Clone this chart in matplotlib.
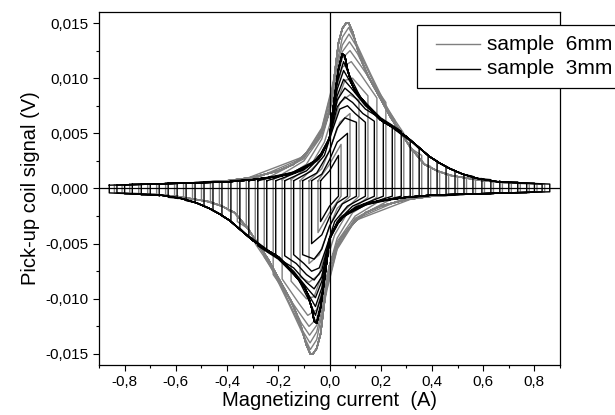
import numpy as np
import matplotlib
matplotlib.use("Agg")
import matplotlib.pyplot as plt
from matplotlib.ticker import MultipleLocator, FuncFormatter
from matplotlib.patches import Rectangle
from matplotlib.lines import Line2D

plt.rcParams["font.family"] = ["Liberation Sans", "DejaVu Sans"]

# ── Data ────────────────────────────────────────────────────────────
# upper (rising-current) branch; the falling branch is the point mirror

# sample 3mm (black): outer envelope of the saturated loops
env_I_3mm = [-0.86, -0.7, -0.55, -0.4, -0.3, -0.2, -0.14, -0.1, -0.06, -0.03,
             -0.01, 0.0, 0.01, 0.023, 0.035, 0.05, 0.06, 0.07, 0.085, 0.1,
             0.13, 0.17, 0.2, 0.25, 0.3, 0.35, 0.39, 0.43, 0.47, 0.52,
             0.58, 0.66, 0.75, 0.86]
env_V_3mm = [0.0003, 0.0004, 0.0005, 0.0006, 0.0008, 0.0011, 0.0014, 0.0018, 0.0024, 0.0032,
             0.0040, 0.0046, 0.0065, 0.0088, 0.0108, 0.0122, 0.0120, 0.0108, 0.0096, 0.0088,
             0.0080, 0.0069, 0.0062, 0.0055, 0.0047, 0.0037, 0.0029, 0.0023, 0.0018, 0.0013,
             0.0009, 0.0006, 0.0005, 0.0004]
# turnaround currents of the saturated loops, value at +A and at -A
amp_3mm = [0.35, 0.385, 0.42, 0.455, 0.49, 0.525, 0.56, 0.595, 0.63, 0.665,
           0.70, 0.735, 0.77, 0.80, 0.83, 0.86]
top_3mm = [0.0036, 0.0030, 0.0025, 0.0020, 0.0016, 0.0013, 0.0011, 0.0009, 0.0008, 0.0007,
           0.0006, 0.0006, 0.0005, 0.0005, 0.0004, 0.0004]
foot_3mm = [0.0007, 0.0007, 0.0006, 0.0006, 0.0006, 0.0005, 0.0005, 0.0005, 0.0005, 0.0004,
            0.0004, 0.0004, 0.0004, 0.0003, 0.0003, 0.0003]
# minor loops (current, signal)
minor_I_3mm = [
    [-0.035, 0.0, 0.035],
    [-0.07, -0.03, 0.0, 0.03, 0.07],
    [-0.105, -0.05, 0.0, 0.03, 0.06, 0.105],
    [-0.14, -0.07, -0.02, 0.01, 0.04, 0.07, 0.1, 0.14],
    [-0.175, -0.09, -0.03, 0.0, 0.03, 0.06, 0.09, 0.13, 0.175],
    [-0.21, -0.1, -0.03, 0.0, 0.03, 0.06, 0.09, 0.14, 0.21],
    [-0.245, -0.12, -0.04, 0.0, 0.03, 0.055, 0.085, 0.14, 0.2, 0.245],
    [-0.28, -0.14, -0.04, 0.0, 0.03, 0.055, 0.08, 0.13, 0.2, 0.28],
    [-0.315, -0.15, -0.05, 0.0, 0.03, 0.055, 0.075, 0.12, 0.2, 0.315],
]
minor_V_3mm = [
    [0.0007, 0.0016, 0.0030],
    [0.0007, 0.0013, 0.0026, 0.0042, 0.0050],
    [0.0007, 0.0014, 0.0034, 0.0055, 0.0064, 0.0060],
    [0.0007, 0.0016, 0.0030, 0.0052, 0.0072, 0.0075, 0.0068, 0.0060],
    [0.0007, 0.0016, 0.0030, 0.0046, 0.0074, 0.0083, 0.0078, 0.0068, 0.0061],
    [0.0007, 0.0017, 0.0031, 0.0046, 0.0080, 0.0091, 0.0085, 0.0072, 0.0062],
    [0.0007, 0.0016, 0.0028, 0.0046, 0.0084, 0.0099, 0.0091, 0.0075, 0.0063, 0.0057],
    [0.0007, 0.0015, 0.0027, 0.0046, 0.0090, 0.0107, 0.0097, 0.0080, 0.0064, 0.0052],
    [0.0007, 0.0014, 0.0025, 0.0046, 0.0096, 0.0115, 0.0104, 0.0083, 0.0063, 0.0043],
]

# sample 6mm (grey)
env_I_6mm = [-0.86, -0.7, -0.55, -0.4, -0.3, -0.2, -0.14, -0.1, -0.05, -0.02,
             0.0, 0.016, 0.035, 0.05, 0.065, 0.075, 0.09, 0.11, 0.13, 0.15,
             0.2, 0.24, 0.28, 0.32, 0.37, 0.42, 0.47, 0.52, 0.6, 0.7, 0.86]
env_V_6mm = [0.0003, 0.0004, 0.0005, 0.0007, 0.0010, 0.0016, 0.0022, 0.0030, 0.0043, 0.0056,
             0.0070, 0.0096, 0.0132, 0.0145, 0.0150, 0.0150, 0.0142, 0.0126, 0.0113, 0.0102,
             0.0081, 0.0064, 0.0050, 0.0036, 0.0022, 0.0016, 0.0012, 0.0010, 0.0007, 0.0005, 0.0004]
amp_6mm = [0.36, 0.395, 0.43, 0.465, 0.5, 0.535, 0.57, 0.605, 0.64, 0.675,
           0.71, 0.745, 0.78, 0.81, 0.84]
top_6mm = [0.0030, 0.0020, 0.0015, 0.0013, 0.0011, 0.0010, 0.0009, 0.0008, 0.0007, 0.0006,
           0.0006, 0.0005, 0.0005, 0.0004, 0.0004]
foot_6mm = [0.0008, 0.0007, 0.0007, 0.0006, 0.0006, 0.0005, 0.0005, 0.0005, 0.0005, 0.0004,
            0.0004, 0.0004, 0.0004, 0.0003, 0.0003]
minor_I_6mm = [
    [-0.045, 0.0, 0.045],
    [-0.08, -0.03, 0.0, 0.04, 0.08],
    [-0.115, -0.05, 0.0, 0.04, 0.08, 0.115],
    [-0.15, -0.07, -0.02, 0.02, 0.06, 0.09, 0.12, 0.15],
    [-0.185, -0.09, -0.03, 0.01, 0.05, 0.085, 0.12, 0.185],
    [-0.22, -0.1, -0.03, 0.01, 0.05, 0.08, 0.12, 0.22],
    [-0.255, -0.1, -0.03, 0.01, 0.05, 0.078, 0.11, 0.16, 0.255],
    [-0.29, -0.1, -0.03, 0.01, 0.05, 0.076, 0.11, 0.16, 0.22, 0.29],
    [-0.325, -0.1, -0.03, 0.01, 0.05, 0.075, 0.11, 0.16, 0.24, 0.325],
]
minor_V_6mm = [
    [0.0007, 0.0022, 0.0040],
    [0.0007, 0.0018, 0.0035, 0.0060, 0.0068],
    [0.0007, 0.0022, 0.0045, 0.0078, 0.0085, 0.0080],
    [0.0008, 0.0022, 0.0042, 0.0072, 0.0098, 0.0100, 0.0092, 0.0084],
    [0.0008, 0.0022, 0.0045, 0.0078, 0.0110, 0.0115, 0.0104, 0.0082],
    [0.0008, 0.0025, 0.0048, 0.0082, 0.0118, 0.0125, 0.0112, 0.0078],
    [0.0008, 0.0027, 0.0052, 0.0086, 0.0124, 0.0133, 0.0122, 0.0098, 0.0062],
    [0.0009, 0.0028, 0.0054, 0.0090, 0.0130, 0.0140, 0.0127, 0.0102, 0.0074, 0.0050],
    [0.0009, 0.0029, 0.0055, 0.0092, 0.0137, 0.0146, 0.0129, 0.0104, 0.0066, 0.0033],
]


def loops(env_I, env_V, amps, tops, feet, minor_I, minor_V):
    """Return list of (I, V) upper branches for every loop."""
    out = list(zip(minor_I, minor_V))
    for A, top, foot in zip(amps, tops, feet):
        I = [-A] + [i for i in env_I if -A < i < A] + [A]
        V = [foot] + [v for i, v in zip(env_I, env_V) if -A < i < A] + [top]
        out.append((I, V))
    return out


def draw_loop(ax, I, V, **kw):
    # rising branch, jump at +A, falling branch (point mirror), jump at -A
    x = list(I) + [-i for i in I] + [I[0]]
    y = list(V) + [-v for v in V] + [V[0]]
    return ax.plot(x, y, **kw)


fig = plt.figure(figsize=(6.15, 4.15), dpi=100)
ax = fig.add_axes([0.161, 0.1205, 0.7496, 0.8506])

GREY = "#7f7f7f"
for I, V in loops(env_I_6mm, env_V_6mm, amp_6mm, top_6mm, foot_6mm, minor_I_6mm, minor_V_6mm):
    draw_loop(ax, I, V, color=GREY, lw=1.0)
for I, V in loops(env_I_3mm, env_V_3mm, amp_3mm, top_3mm, foot_3mm, minor_I_3mm, minor_V_3mm):
    draw_loop(ax, I, V, color="black", lw=1.0)

ax.axhline(0, color="black", lw=0.9)
ax.axvline(0, color="black", lw=0.9)

ax.set_xlim(-0.9, 0.9)
ax.set_ylim(-0.016, 0.016)
ax.xaxis.set_major_locator(MultipleLocator(0.2))
ax.xaxis.set_minor_locator(MultipleLocator(0.1))
ax.yaxis.set_major_locator(MultipleLocator(0.005))
ax.yaxis.set_minor_locator(MultipleLocator(0.0025))
ax.xaxis.set_major_formatter(FuncFormatter(lambda v, p: f"{v:.1f}".replace(".", ",").replace("-0,0", "0,0")))
ax.yaxis.set_major_formatter(FuncFormatter(lambda v, p: f"{v:.3f}".replace(".", ",").replace("-0,000", "0,000")))
ax.tick_params(which="major", direction="out", length=4.5, width=0.8, labelsize=11, pad=3)
ax.tick_params(which="minor", direction="out", length=2.5, width=0.8)
for s in ax.spines.values():
    s.set_linewidth(0.9)

ax.set_xlabel("Magnetizing current  (A)", fontsize=14.5, labelpad=1)
ax.set_ylabel("Pick-up coil signal (V)", fontsize=14.5, labelpad=4)

# ── legend box, placed in pixels like the original (runs past the edge) ──
W, H = 615.0, 415.0
fig.add_artist(Rectangle((417 / W, 1 - 88 / H), 220 / W, 63 / H, transform=fig.transFigure,
                         facecolor="white", edgecolor="black", lw=0.9, clip_on=False))
for yy, col, lab in [(44, GREY, "sample  6mm"), (69, "black", "sample  3mm")]:
    fig.add_artist(Line2D([436 / W, 480 / W], [1 - yy / H, 1 - yy / H],
                          transform=fig.transFigure, color=col, lw=1.0))
    fig.text(487 / W, 1 - yy / H, lab, fontsize=15, va="center", ha="left")

fig.savefig("out.png", dpi=100)
